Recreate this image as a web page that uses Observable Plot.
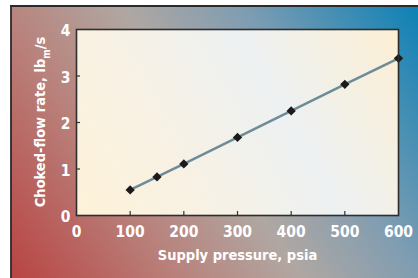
<!DOCTYPE html>
<html>
<head>
<meta charset="utf-8">
<script src="https://cdn.jsdelivr.net/npm/d3@7"></script>
<script src="https://cdn.jsdelivr.net/npm/@observablehq/plot@0.6"></script>
<style>
  html, body { margin: 0; padding: 0; background: #ffffff; }
  #chart svg { display: block; }
</style>
</head>
<body>
<div id="chart"></div>
<script>
// Data
const supplyPressure = [100, 150, 200, 300, 400, 500, 600];   // psia
const chokedFlowRate = [0.55, 0.83, 1.11, 1.68, 2.25, 2.82, 3.38]; // lbm/s
const xTicks = [0, 100, 200, 300, 400, 500, 600];
const yTicks = [0, 1, 2, 3, 4];
const xInnerTicks = [100, 200, 300, 400, 500];
const yInnerTicks = [1, 2, 3];
const xTitle = "Supply pressure, psia";
const yTitleMain = "Choked-flow rate, lb";
const yTitleSub = "m";
const yTitleEnd = "/s";

const data = supplyPressure.map((p, i) => ({p, q: chokedFlowRate[i]}));

const FONT = "'Liberation Sans Narrow', 'Arial Narrow', 'DejaVu Sans Condensed', sans-serif";
const W = 418, H = 278;
const mL = 76, mR = 20, mT = 29, mB = 63;
const plotW = W - mL - mR, plotH = H - mT - mB;

function background(index, scales, values, dims) {
  const g = d3.create("svg:g");
  const defs = g.append("defs");
  const og = defs.append("linearGradient").attr("id", "outerGrad")
    .attr("gradientUnits", "userSpaceOnUse")
    .attr("x1", 0).attr("y1", dims.height).attr("x2", dims.width).attr("y2", 0);
  [[0, "#b8403f"], [0.3, "#b9827c"], [0.5, "#b0a7a2"], [0.7, "#7e9db2"], [1, "#0a80b6"]]
    .forEach(([o, c]) => og.append("stop").attr("offset", o).attr("stop-color", c));
  const ig = defs.append("linearGradient").attr("id", "innerGrad")
    .attr("gradientUnits", "userSpaceOnUse")
    .attr("x1", dims.marginLeft).attr("y1", dims.height - dims.marginBottom)
    .attr("x2", dims.width - dims.marginRight).attr("y2", dims.marginTop);
  [[0, "#fdf2d8"], [0.3, "#f8f1e4"], [0.62, "#edf1f2"], [1, "#fcefd4"]]
    .forEach(([o, c]) => ig.append("stop").attr("offset", o).attr("stop-color", c));
  g.append("rect").attr("x", 11).attr("y", 6)
    .attr("width", dims.width - 11).attr("height", dims.height - 6)
    .attr("fill", "url(#outerGrad)");
  g.append("line").attr("x1", 11).attr("x2", 11).attr("y1", 5.5).attr("y2", dims.height)
    .attr("stroke", "#2a2a2a").attr("stroke-width", 1.8);
  g.append("line").attr("x1", 10).attr("x2", dims.width).attr("y1", 6).attr("y2", 6)
    .attr("stroke", "#2a2a2a").attr("stroke-width", 1.8);
  g.append("rect").attr("x", dims.marginLeft).attr("y", dims.marginTop)
    .attr("width", dims.width - dims.marginLeft - dims.marginRight)
    .attr("height", dims.height - dims.marginTop - dims.marginBottom)
    .attr("fill", "url(#innerGrad)");
  return g.node();
}

function yTitleMark(index, scales, values, dims) {
  const cx = 41;
  const cy = dims.marginTop + (dims.height - dims.marginTop - dims.marginBottom) / 2;
  const t = d3.create("svg:text")
    .attr("transform", `translate(${cx},${cy}) rotate(-90)`)
    .attr("text-anchor", "middle")
    .attr("dominant-baseline", "middle")
    .attr("fill", "white")
    .attr("font-family", FONT)
    .attr("font-weight", "bold")
    .attr("font-size", 14.5);
  t.append("tspan").text(yTitleMain);
  t.append("tspan").attr("baseline-shift", "sub").attr("font-size", 10).text(yTitleSub);
  t.append("tspan").text(yTitleEnd);
  return t.node();
}

const chart = Plot.plot({
  width: W,
  height: H,
  marginLeft: mL,
  marginRight: mR,
  marginTop: mT,
  marginBottom: mB,
  style: {fontFamily: FONT, background: "transparent", overflow: "visible"},
  x: {domain: [0, 600]},
  y: {domain: [0, 4]},
  marks: [
    background,
    Plot.tickX(xInnerTicks, {x: d => d, insetTop: plotH - 4, stroke: "#333", strokeWidth: 1.2}),
    Plot.tickY(yInnerTicks, {y: d => d, insetRight: plotW - 4, stroke: "#333", strokeWidth: 1.2}),
    Plot.line(data, {x: "p", y: "q", stroke: "#6d8c98", strokeWidth: 2.6}),
    Plot.dot(data, {x: "p", y: "q", symbol: "diamond2", r: 4.2, fill: "#1b1b1b", stroke: "none"}),
    Plot.axisX(xTicks, {tickSize: 0, tickPadding: 10, fill: "white", fontWeight: "bold", fontSize: 15.5, label: null}),
    Plot.axisY(yTicks, {tickSize: 0, tickPadding: 6, fill: "white", fontWeight: "bold", fontSize: 15.5, label: null, dy: 2}),
    Plot.frame({stroke: "#2e2e2e", strokeWidth: 1.6}),
    Plot.text([xTitle], {frameAnchor: "bottom", dy: 44, fill: "white", fontWeight: "bold", fontSize: 14.5}),
    yTitleMark
  ]
});
document.getElementById("chart").appendChild(chart);
</script>
</body>
</html>
